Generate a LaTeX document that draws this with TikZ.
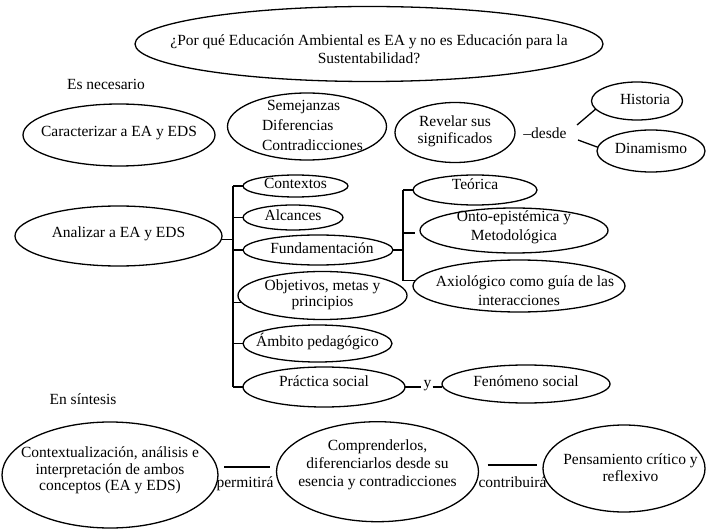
\documentclass[tikz,border=0pt]{standalone}
\usepackage{fontspec}
\setmainfont{Liberation Serif}
\usetikzlibrary{shapes.geometric,calc}
\newcommand{\ztext}[2][-2pt]{\smash{\makebox[0pt]{\raisebox{#1}{\begin{tabular}{@{}c@{}}#2\end{tabular}}}}}
\begin{document}
\begin{tikzpicture}[x=1pt,y=-1pt,
  ell/.style={draw, ellipse, line width=1.3pt, inner sep=0pt, outer sep=0pt, font=\fontsize{15.5}{18}\selectfont},
  txt/.style={inner sep=0pt, anchor=base, font=\fontsize{15.5}{18}\selectfont},
  con/.style={line width=1.3pt}]
\useasboundingbox (0,0) rectangle (706,529);
\fill[white] (0,0) rectangle (706,529);

% top
\node[ell, minimum width=468pt, minimum height=75pt] (q) at (369,44) {\ztext[-11pt]{¿Por qué Educación Ambiental es EA y no es Educación para la\\Sustentabilidad?}};
\node[txt] (nec) at (106,90) {Es necesario};

% row 1
\node[ell, minimum width=192pt, minimum height=62pt] (car) at (119,135) {\ztext{Caracterizar a EA y EDS}};
\node[ell, minimum width=159pt, minimum height=67pt, font=\fontsize{15.5}{20}\selectfont] (sem) at (307,126.5) {\smash{\makebox[0pt]{\hspace{10.8pt}\raisebox{-4pt}{\begin{tabular}{@{}l@{}}\hspace{5pt}Semejanzas\\Diferencias\\Contradicciones\end{tabular}}}}};
\node[ell, minimum width=120pt, minimum height=60pt, font=\fontsize{15.5}{17}\selectfont] (rev) at (455,132.5) {\ztext[-2.7pt]{Revelar sus\\significados}};
\node[txt] (des) at (545,138.5) {–desde};
\node[ell, minimum width=91pt, minimum height=38pt] (his) at (637,101) {\ztext[-3.7pt]{\hspace{16pt}Historia}};
\node[ell, minimum width=108pt, minimum height=42pt] (din) at (651,151) {\ztext[-2.7pt]{Dinamismo\hspace{20pt}}};
\coordinate (d1) at (577,125);
\coordinate (d2) at (578,140);
\draw[con] (d1) -- (his.191);
\draw[con] (d2) -- (din.176);

% row 2
\node[ell, minimum width=207pt, minimum height=60pt] (ana) at (118.5,236) {\ztext[-1.7pt]{Analizar a EA y EDS}};
\node[ell, minimum width=105pt, minimum height=22pt] (ctx) at (295.5,186) {\ztext[-2.7pt]{Contextos\hspace{17pt}}};
\node[ell, minimum width=100pt, minimum height=25pt] (alc) at (293,217.5) {\ztext[-3.2pt]{Alcances}};
\node[ell, minimum width=150pt, minimum height=30pt] (fun) at (318,250) {\ztext[-3.7pt]{\hspace{8pt}Fundamentación}};
\node[ell, minimum width=169pt, minimum height=48pt, font=\fontsize{15.5}{16.5}\selectfont] (obj) at (322.5,295.5) {\ztext[-3.2pt]{Objetivos, metas y\\principios\hspace{4pt}}};
\node[ell, minimum width=149pt, minimum height=37pt] (amb) at (317.5,343.5) {\ztext[-2.2pt]{Ámbito pedagógico}};
\node[ell, minimum width=162pt, minimum height=40pt] (pra) at (324,387) {\ztext[0.3pt]{Práctica social\hspace{10pt}}};
\node[txt] (yn) at (427.5,387) {y};
\node[ell, minimum width=168pt, minimum height=38pt] (fen) at (526,384) {\ztext[-2.7pt]{Fenómeno social\hspace{16pt}}};

\node[ell, minimum width=124pt, minimum height=30pt] (teo) at (475,190) {\ztext[0.3pt]{Teórica\hspace{10pt}}};
\node[ell, minimum width=188pt, minimum height=45pt, font=\fontsize{15.5}{19}\selectfont] (ont) at (514,230.5) {\ztext[-0.7pt]{Onto-epistémica y\\Metodológica}};
\node[ell, minimum width=212pt, minimum height=52pt, font=\fontsize{15.5}{19}\selectfont] (axi) at (519,286) {\ztext[-10pt]{\hspace{12pt}Axiológico como guía de las\\interacciones}};

% bracket 1
\coordinate (bx) at (233,0);
\draw[con] (ana.358) -- (ana.358 -| bx);
\draw[con] (bx |- ctx.west) -- (bx |- pra.west);
\draw[con] (bx |- ctx.west) -- (ctx.west);
\draw[con] (bx |- alc.west) -- (alc.west);
\draw[con] (bx |- fun.west) -- (fun.west);
\draw[con] (bx |- obj.185) -- (obj.185);
\draw[con] (bx |- amb.west) -- (amb.west);
\draw[con] (bx |- pra.west) -- (pra.west);

% bracket 2
\coordinate (bx2) at (403,0);
\coordinate (ot) at (415,233);
\draw[con] (fun.east) -- (fun.east -| bx2);
\draw[con] (bx2 |- teo.west) -- (bx2 |- axi.177);
\draw[con] (bx2 |- teo.west) -- (teo.west);
\draw[con] (bx2 |- ot) -- (ot);
\draw[con] (bx2 |- axi.177) -- (axi.177);

% y
\draw[con] (pra.east) -- ($(yn.base west)+(-2,0)$);
\draw[con] ($(yn.base east)+(1,0)$) -- (fen.west |- yn.base);

% bottom
\node[txt] (sin) at (83,404) {En síntesis};
\node[ell, minimum width=216pt, minimum height=106pt, font=\fontsize{15.5}{16.5}\selectfont] (ctxz) at (110,475) {\ztext[0.3pt]{Contextualización, análisis e\\interpretación de ambos\\conceptos (EA y EDS)}};
\node[ell, minimum width=202pt, minimum height=100pt, font=\fontsize{15.5}{18}\selectfont] (comp) at (377.5,471.7) {\ztext[3pt]{Comprenderlos,\\diferenciarlos desde su\\esencia y contradicciones}};
\node[ell, minimum width=162pt, minimum height=87pt, font=\fontsize{15.5}{17}\selectfont] (pens) at (624,468.5) {\ztext[-4.7pt]{\hspace{13pt}Pensamiento crítico y\\\hspace{13pt}reflexivo}};
\node[txt] (perm) at (245,487) {permitirá};
\node[txt] (contr) at (512.5,487) {contribuirá};
\draw[con] ($(ctxz.east)+(6,-8)$) -- ($(comp.west)+(-7,-4.7)$);
\draw[con] ($(comp.east)+(9,-6.7)$) -- ($(pens.west)+(-6,-3.5)$);
\end{tikzpicture}
\end{document}
